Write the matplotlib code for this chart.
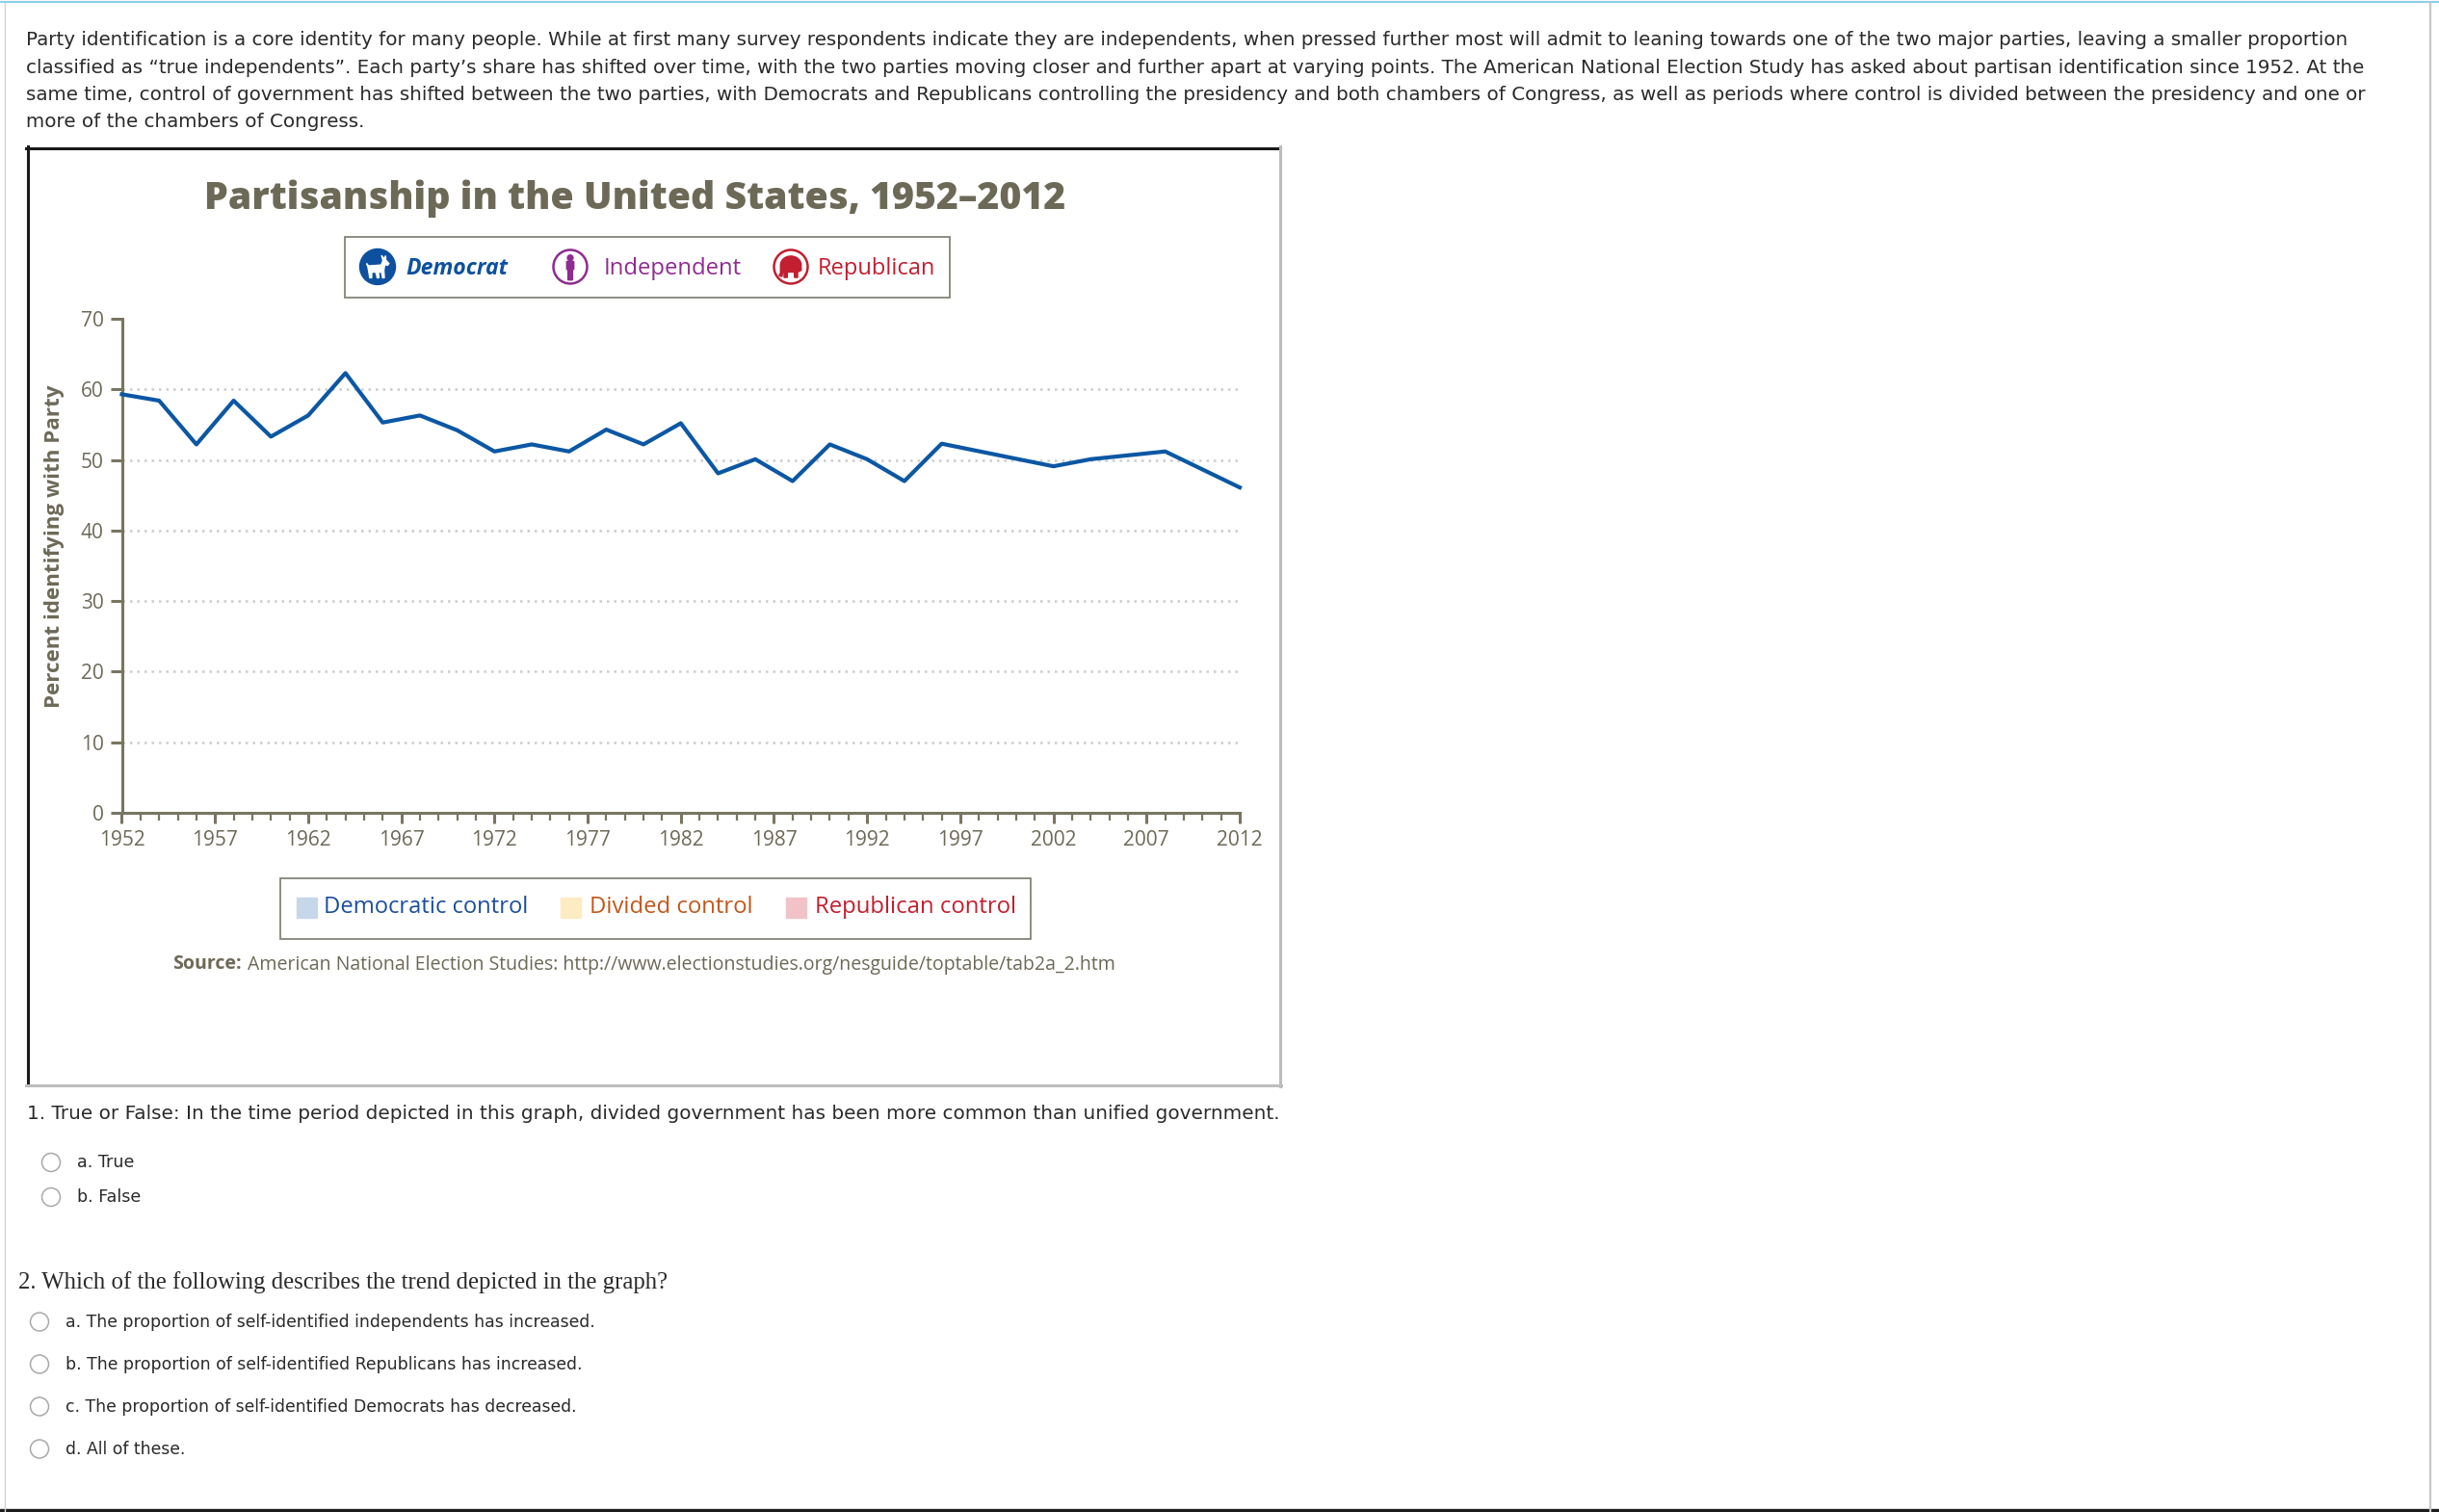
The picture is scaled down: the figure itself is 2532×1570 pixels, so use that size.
import matplotlib
matplotlib.use("Agg")
import matplotlib.pyplot as plt
from matplotlib.patches import Rectangle, Circle, Polygon
import numpy as np

W, H = 2532, 1570  # figure size in pixels

# --- data ---
years = [1952, 1954, 1956, 1958, 1960, 1962, 1964, 1966, 1968, 1970, 1972, 1974,
         1976, 1978, 1980, 1982, 1984, 1986, 1988, 1990, 1992, 1994, 1996, 2002,
         2004, 2008, 2012]
pct_party = [59.3, 58.4, 52.2, 58.4, 53.3, 56.3, 62.3, 55.3, 56.3, 54.2, 51.2, 52.2,
             51.2, 54.3, 52.2, 55.2, 48.1, 50.1, 47.0, 52.2, 50.1, 47.0, 52.3, 49.1,
             50.1, 51.2, 46.1]
y_ticks = [0, 10, 20, 30, 40, 50, 60, 70]
x_major = list(range(1952, 2013, 5))
x_minor = list(range(1952, 2013))

party_names = ["Democrat", "Independent", "Republican"]
party_colors = ["#0d50a0", "#8f2b91", "#c21f30"]
control_names = ["Democratic control", "Divided control", "Republican control"]
control_fill = ["#c6d7ea", "#fdebc1", "#f1c3c8"]
control_text = ["#1b4f9b", "#c2571a", "#c41e2e"]

intro_lines = [
    "Party identification is a core identity for many people. While at first many survey respondents indicate they are independents, when pressed further most will admit to leaning towards one of the two major parties, leaving a smaller proportion",
    "classified as \u201ctrue independents\u201d. Each party\u2019s share has shifted over time, with the two parties moving closer and further apart at varying points. The American National Election Study has asked about partisan identification since 1952. At the",
    "same time, control of government has shifted between the two parties, with Democrats and Republicans controlling the presidency and both chambers of Congress, as well as periods where control is divided between the presidency and one or",
    "more of the chambers of Congress.",
]
q1 = "1. True or False: In the time period depicted in this graph, divided government has been more common than unified government."
q1_opts = ["a. True", "b. False"]
q2 = "2. Which of the following describes the trend depicted in the graph?"
q2_opts = ["a. The proportion of self-identified independents has increased.",
           "b. The proportion of self-identified Republicans has increased.",
           "c. The proportion of self-identified Democrats has decreased.",
           "d. All of these."]

plt.rcParams["font.family"] = ["Open Sans", "DejaVu Sans"]
INK = "#6d6957"
AXC = "#797560"

fig = plt.figure(figsize=(W / 100, H / 100), dpi=100)
bg = fig.add_axes([0, 0, 1, 1])
bg.set_xlim(0, W)
bg.set_ylim(H, 0)
bg.axis("off")
renderer = fig.canvas.get_renderer()


def fit(t, size, vertical=False):
    bb = t.get_window_extent(renderer)
    cur = bb.height if vertical else bb.width
    t.set_fontsize(t.get_fontsize() * size / cur)
    return t


# page frame
bg.plot([0, W], [1.5, 1.5], color="#8ccfe6", lw=1.5)
bg.plot([5, 5], [3, H], color="#d4d4d4", lw=1)
bg.plot([2523, 2523], [3, H], color="#c8c8c8", lw=1.6)
bg.add_patch(Rectangle((0, H - 3), W, 3, color="#1c1c1c"))

# intro paragraph
sans = ["DejaVu Sans"]
t0 = bg.text(27, 41.7, intro_lines[0], family=sans, fontsize=13, color="#2a2a2a", va="center")
fit(t0, 2442 - 27)
for i, line in enumerate(intro_lines[1:]):
    bg.text(27, 70 + 28.4 * i, line, family=sans, fontsize=t0.get_fontsize(),
            color="#2a2a2a", va="center")

# chart box
bg.plot([28.5, 28.5], [152, 1127], color="#1a1a1a", lw=2.2)
bg.plot([27, 1329], [153.5, 153.5], color="#1a1a1a", lw=2.2)
bg.plot([1328.5, 1328.5], [152, 1128], color="#bdbdbd", lw=2.2)
bg.plot([27, 1330], [1126.5, 1126.5], color="#bdbdbd", lw=2.2)

# title
tt = bg.text(659, 217, "Partisanship in the United States, 1952\u20132012", ha="center",
             va="baseline", fontsize=28, weight="heavy", color=INK)
fit(tt, 895)

# party legend
bg.add_patch(Rectangle((358, 246), 628, 63, fill=False, ec="#85837a", lw=1.3))
r = 18.5
cy = 277
# democrat: filled circle with a white donkey
cx = 392
bg.add_patch(Circle((cx, cy), r, color=party_colors[0]))
donkey = [(-0.62, 0.18), (-0.5, 0.05), (0.2, 0.1), (0.3, 0.35), (0.22, 0.64), (0.36, 0.44),
          (0.45, 0.62), (0.46, 0.38), (0.64, 0.18), (0.56, 0.08), (0.4, 0.12), (0.35, -0.2),
          (0.38, -0.62), (0.28, -0.62), (0.22, -0.3), (0.05, -0.3), (0.08, -0.62),
          (-0.02, -0.62), (-0.1, -0.3), (-0.33, -0.3), (-0.33, -0.62), (-0.44, -0.62),
          (-0.5, -0.25), (-0.55, 0.02)]
bg.add_patch(Polygon([(cx + x * r, cy - y * r) for x, y in donkey], color="white"))
# independent: ring with a standing figure
cx = 592
bg.add_patch(Circle((cx, cy), r - 1, fill=False, ec=party_colors[1], lw=1.8))
bg.add_patch(Circle((cx, cy - 0.5 * r), 0.16 * r, color=party_colors[1]))
person = [(-0.2, 0.3), (0.2, 0.3), (0.2, -0.15), (0.13, -0.15), (0.13, -0.74), (0.02, -0.74),
          (0.0, -0.25), (-0.02, -0.74), (-0.13, -0.74), (-0.13, -0.15), (-0.2, -0.15)]
bg.add_patch(Polygon([(cx + x * r, cy - y * r) for x, y in person], color=party_colors[1]))
# republican: ring with an elephant
cx = 821
bg.add_patch(Circle((cx, cy), r - 1, fill=False, ec=party_colors[2], lw=1.8))
ang = np.linspace(0, np.pi, 20)
eleph = [(0.58 * np.cos(a), 0.1 + 0.5 * np.sin(a)) for a in ang]
eleph += [(-0.58, -0.35), (-0.66, -0.5), (-0.5, -0.55), (-0.45, -0.3), (-0.38, -0.3),
          (-0.38, -0.6), (-0.2, -0.6), (-0.2, -0.3), (0.2, -0.3), (0.2, -0.6),
          (0.38, -0.6), (0.38, -0.3), (0.58, -0.2)]
bg.add_patch(Polygon([(cx + x * r, cy - y * r) for x, y in eleph], color=party_colors[2]))

party_x = [421, 627, 849]
party_w = [106, 142, 122]
for name, col, x, w in zip(party_names, party_colors, party_x, party_w):
    if name == "Democrat":
        t = bg.text(x, 279, name, color=col, fontsize=18, va="center", weight="bold", style="italic")
    else:
        t = bg.text(x, 279, name, color=col, fontsize=18, va="center")
    fit(t, w)

# chart axes
ax = fig.add_axes([126.5 / W, 1 - 844 / H, (1287 - 126.5) / W, (844 - 331) / H])
ax.patch.set_alpha(0)
ax.set_xlim(1952, 2012)
ax.set_ylim(0, 70)
for s in ["top", "right"]:
    ax.spines[s].set_visible(False)
for s in ["left", "bottom"]:
    ax.spines[s].set_color(AXC)
    ax.spines[s].set_linewidth(2.2)
ax.set_yticks(y_ticks)
ax.set_xticks(x_major)
ax.set_xticks(x_minor, minor=True)
ax.tick_params(axis="y", length=8.6, width=2.2, color=AXC, labelcolor=INK, labelsize=15, pad=5)
ax.tick_params(axis="x", which="major", length=8, width=2.2, color=AXC, labelcolor=INK,
               labelsize=15, pad=5)
ax.tick_params(axis="x", which="minor", length=5.5, width=1.6, color=AXC)
for v in y_ticks[:-1]:
    ax.axhline(v, color="#cccccc", lw=1.8, ls=(0, (1, 2)), zorder=0)
ax.plot(years, pct_party, color="#0b57a4", lw=3, zorder=3, clip_on=False)

yl = bg.text(57, 567, "Percent identifying with Party", rotation=90, ha="center", va="center",
             fontsize=14, weight="bold", color=INK)
fit(yl, 336, vertical=True)

# control legend
bg.add_patch(Rectangle((290.5, 912), 779.5, 63, fill=False, ec="#85837a", lw=1.3))
sq_x = [308, 582, 816]
txt_x = [336, 612, 846]
txt_w = [212.6, 170, 209.5]
for name, fc, tc, sx, tx, w in zip(control_names, control_fill, control_text, sq_x, txt_x, txt_w):
    bg.add_patch(Rectangle((sx, 931.5), 21, 21, color=fc))
    t = bg.text(tx, 942, name, color=tc, fontsize=17, va="center")
    fit(t, w)

# source line
s1 = bg.text(179.5, 1001.5, "Source:", weight="bold", color=INK, fontsize=14, va="center")
s2 = bg.text(0, 1001.5, "American National Election Studies: http://www.electionstudies.org/nesguide/toptable/tab2a_2.htm",
             color=INK, fontsize=14, va="center")
w1 = s1.get_window_extent(renderer).width
w2 = s2.get_window_extent(renderer).width
k = (1162 - 179.5 - 6) / (w1 + w2)
s1.set_fontsize(14 * k)
s2.set_fontsize(14 * k)
s2.set_x(s1.get_window_extent(renderer).x1 + 6)

# question 1
tq = bg.text(28, 1156, q1, family=sans, color="#2a2a2a", fontsize=14, va="center")
fit(tq, 1295)
ta = None
for i, opt in enumerate(q1_opts):
    y = 1207 + 36 * i
    bg.add_patch(Circle((53, y), 9.5, fc="white", ec="#a9a9a9", lw=1.1))
    t = bg.text(80, y, opt, family=sans, color="#2a2a2a", fontsize=12, va="center")
    if ta is None:
        fit(t, 59)
        ta = t.get_fontsize()
    t.set_fontsize(ta)

# question 2
t2 = bg.text(19, 1332, q2, family=["Liberation Serif"], color="#2a2a2a", fontsize=16, va="center")
fit(t2, 675)
tb = None
for i, opt in enumerate(q2_opts):
    y = 1372.5 + 44 * i
    bg.add_patch(Circle((41, y), 9.5, fc="white", ec="#a9a9a9", lw=1.1))
    t = bg.text(68.5, y, opt, family=sans, color="#2a2a2a", fontsize=12, va="center")
    if tb is None:
        fit(t, 544)
        tb = t.get_fontsize()
    t.set_fontsize(tb)

fig.savefig("out.png", dpi=100)
